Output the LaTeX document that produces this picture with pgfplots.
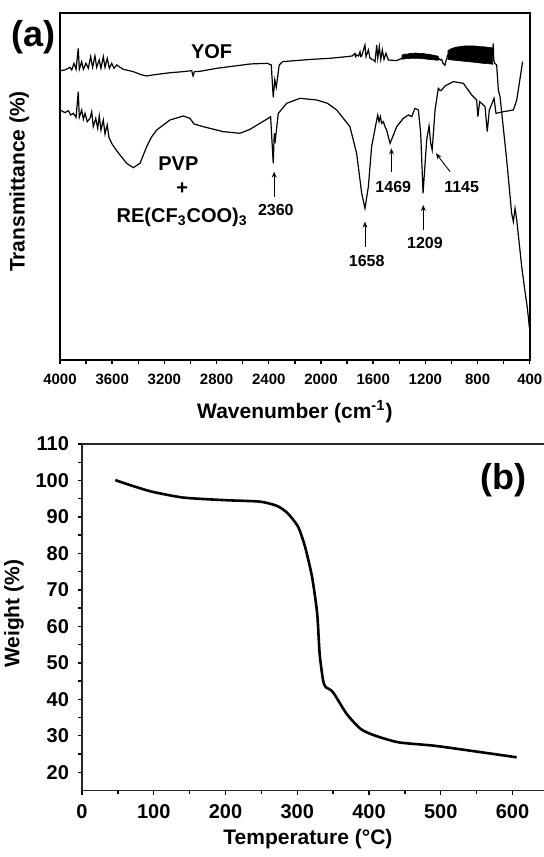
\documentclass[border=0pt]{standalone}
\usepackage{fontspec}
\setmainfont{Liberation Sans}
\usepackage{pgfplots}
\pgfplotsset{compat=1.18}
\usetikzlibrary{arrows.meta}

\begin{document}
\begin{tikzpicture}
\begin{axis}[
  at={(30pt,-6.65pt)}, anchor=north west, scale only axis,
  width=234.9pt, height=173.35pt,
  x dir=reverse, xmin=400, xmax=4000, ymin=0, ymax=1040,
  xtick={400,800,...,4000}, minor x tick num=1, ytick=\empty,
  xtick pos=left, tick align=outside, scaled x ticks=false,
  major tick length=2.2pt, minor tick length=2pt,
  axis line style={line width=0.9pt},
  every tick/.style={line width=0.7pt, black},
  /pgf/number format/assume math mode=true,
  /pgf/number format/1000 sep={},
  xticklabel style={font=\bfseries\fontsize{7.5}{9}\selectfont, yshift=-1.5pt},
  xlabel={Wavenumber (cm\textsuperscript{-1})},
  ylabel={Transmittance (\%)},
  label style={font=\bfseries\fontsize{10.5}{12}\selectfont},
  xlabel style={at={(axis description cs:0.5,-0.15)}, anchor=center},
  ylabel style={at={(axis description cs:-0.087,0.515)}, anchor=center},
]
% YOF
\addplot[black, line width=0.6pt] coordinates {
(4000,868)(3962,870)(3923,878)(3910,870)(3893,890)(3877,872)(3860,935)(3852,872)(3834,895)(3821,872)(3801,890)(3783,875)(3765,910)(3750,878)(3732,912)(3719,878)(3699,900)(3686,875)(3668,910)(3655,878)(3638,905)(3622,875)(3604,890)(3586,875)(3566,885)(3515,872)(3438,865)(3380,856)(3336,852)(3290,855)(3234,858)(3150,862)(3055,865)(2991,868)(2980,852)(2970,865)(2927,866)(2799,875)(2700,880)(2600,885)(2544,888)(2412,890)(2381,885)(2366,788)(2354,840)(2343,818)(2320,885)(2293,895)(2200,898)(2067,902)(1931,905)(1803,910)(1760,912)(1740,920)(1735,910)(1726,915)(1712,912)(1701,925)(1695,910)(1688,912)(1663,945)(1655,910)(1637,930)(1624,905)(1599,900)(1586,895)(1573,945)(1565,905)(1553,940)(1542,902)(1530,930)(1517,902)(1502,920)(1484,900)(1420,898)(1382,905)
(1340,911)(1300,912)(1250,912)(1200,910)(1150,908)(1100,905)
(1085,900)(1075,902)(1065,890)(1050,884)(1042,898)(1035,905)(1030,915)
(950,919)(850,918)(760,915)(690,912)(682,936)(680,950)(676,900)(670,890)(662,888)(654,885)
(641,810)(628,790)(577,600)(539,440)(526,415)(513,455)(500,420)(462,280)(440,215)(420,160)(410,125)(404,100)(401,95)
};
% YOF dense bands
\addplot[fill=black, draw=black, line width=0.3pt] coordinates {
(1382,914)(1360,918)(1340,917)(1320,920)(1300,919)(1280,921)(1250,920)(1220,920)(1200,918)(1170,917)(1150,915)(1120,913)(1100,911)
(1100,899)(1130,900)(1150,901)(1180,902)(1200,903)(1230,904)(1250,905)(1280,905)(1300,905)(1340,904)(1382,902)
};
\addplot[fill=black, draw=black, line width=0.3pt] coordinates {
(1030,926)(1015,931)(1000,934)(985,936)(970,938)(955,939)(940,940)(920,941)(900,942)(875,942)(850,942)(825,942)(800,941)(780,940)(760,940)(740,939)(720,938)(700,937)(684,936)
(684,887)(700,888)(720,889)(740,889)(760,890)(780,891)(800,892)(825,893)(850,894)(875,895)(900,896)(925,897)(950,898)(975,899)(1000,900)(1030,902)
};
% PVP + RE(CF3COO)3
\addplot[black, line width=0.6pt] coordinates {
(4000,750)(3962,742)(3936,748)(3918,735)(3898,740)(3877,728)(3860,805)(3852,728)(3834,750)(3821,722)(3808,740)(3791,715)(3770,725)(3757,745)(3745,700)(3726,725)(3711,695)(3699,732)(3686,690)(3668,720)(3655,678)(3638,705)(3625,668)(3604,650)(3579,635)(3540,615)(3489,590)(3438,577)(3387,590)(3336,640)(3300,668)(3259,690)(3157,720)(3055,732)(3004,725)(2973,708)(2902,700)(2749,685)(2621,680)(2544,692)(2404,725)(2386,730)(2366,590)(2358,680)(2350,660)(2327,740)(2263,770)(2161,785)(2033,780)(1950,770)(1880,750)(1778,700)(1727,620)(1688,500)(1663,455)(1637,520)(1612,640)(1578,710)(1565,735)(1555,715)(1545,730)(1535,710)(1522,715)(1510,700)(1497,690)(1471,650)(1450,670)(1420,700)(1369,725)(1330,735)(1305,730)(1280,755)(1254,750)(1236,680)(1218,500)(1190,660)(1172,702)(1159,650)(1148,630)(1126,750)(1101,815)(1085,808)(1075,810)(1050,822)(986,835)(909,830)(845,795)(807,780)(798,730)(784,775)(743,760)(726,685)(710,750)(674,785)(659,740)(600,745)(526,750)(500,780)(455,895)
};
\node[font=\bfseries\fontsize{10}{12}\selectfont] at (axis cs:2838,925) {YOF};
\node[font=\bfseries\fontsize{10}{12}\selectfont] at (axis cs:3093,590) {PVP};
\node[font=\bfseries\fontsize{10}{12}\selectfont] at (axis cs:3064,515) {+};
\node[font=\bfseries\fontsize{10}{12}\selectfont, anchor=base] at (axis cs:3064,412) {RE(CF\textsubscript{3}COO)\textsubscript{3}};
\tikzset{pk/.style={font=\bfseries\fontsize{8}{10}\selectfont}, ar/.style={-{Stealth[length=3pt,width=2.4pt]}, line width=0.45pt}}
\node[pk] at (axis cs:2346,450) {2360};
\draw[ar] (axis cs:2359,490) -- (axis cs:2359,565);
\node[pk] at (axis cs:1650,298) {1658};
\draw[ar] (axis cs:1663,340) -- (axis cs:1663,415);
\node[pk] at (axis cs:1446,520) {1469};
\draw[ar] (axis cs:1460,565) -- (axis cs:1460,635);
\node[pk] at (axis cs:1203,350) {1209};
\draw[ar] (axis cs:1216,390) -- (axis cs:1216,465);
\node[pk] at (axis cs:922,520) {1145};
\draw[ar] (axis cs:1011,565) -- (axis cs:1119,620);
\end{axis}

\begin{axis}[
  at={(41pt,-222pt)}, anchor=north west, scale only axis,
  width=231pt, height=173.25pt,
  xmin=0, xmax=643.9, ymin=15, ymax=110,
  xtick={0,100,...,600}, minor x tick num=1,
  ytick={20,30,...,110}, minor y tick num=1,
  axis x line=box, axis y line=left,
  axis line style={-, line width=0.9pt, black!85},
  xtick pos=left, ytick pos=left, tick align=outside,
  major tick length=2.2pt, minor tick length=2pt,
  every tick/.style={line width=0.7pt, black},
  /pgf/number format/assume math mode=true,
  /pgf/number format/1000 sep={},
  xticklabel style={font=\bfseries\fontsize{10}{12}\selectfont, yshift=-1.5pt},
  yticklabel style={font=\bfseries\fontsize{10}{12}\selectfont, xshift=-0.8pt},
  xlabel={Temperature (°C)},
  ylabel={Weight (\%)},
  label style={font=\bfseries\fontsize{10.5}{12}\selectfont},
  xlabel style={at={(axis description cs:0.489,-0.14)}, anchor=center},
  ylabel style={at={(axis description cs:-0.147,0.51)}, anchor=center, rotate=0},
]
\addplot[black, line width=1.3pt, smooth, tension=0.4] coordinates {
(46.4,100.1)(69.1,98.6)(98.2,96.9)(141.7,95.3)(199.7,94.6)(248.0,94.2)(272.2,93.0)(286.7,91.0)(301.2,87.3)(310.9,81.8)(320.6,73.6)(327.8,63.5)(331.2,52.5)(336.0,45.2)(339.9,43.3)(349.6,42.0)(368.9,36.0)(388.2,31.9)(407.6,30.1)(441.4,28.2)(489.8,27.3)(538.1,26.0)(605.8,24.1)
};
\node[font=\bfseries\fontsize{18}{20}\selectfont] at (axis cs:587,100) {(b)};
\end{axis}

\node[font=\bfseries\fontsize{18}{20}\selectfont] at (16.65pt,-18.75pt) {(a)};
\pgfresetboundingbox
\path[use as bounding box] (0,0) rectangle (272pt,-428.5pt);
\end{tikzpicture}
\end{document}
